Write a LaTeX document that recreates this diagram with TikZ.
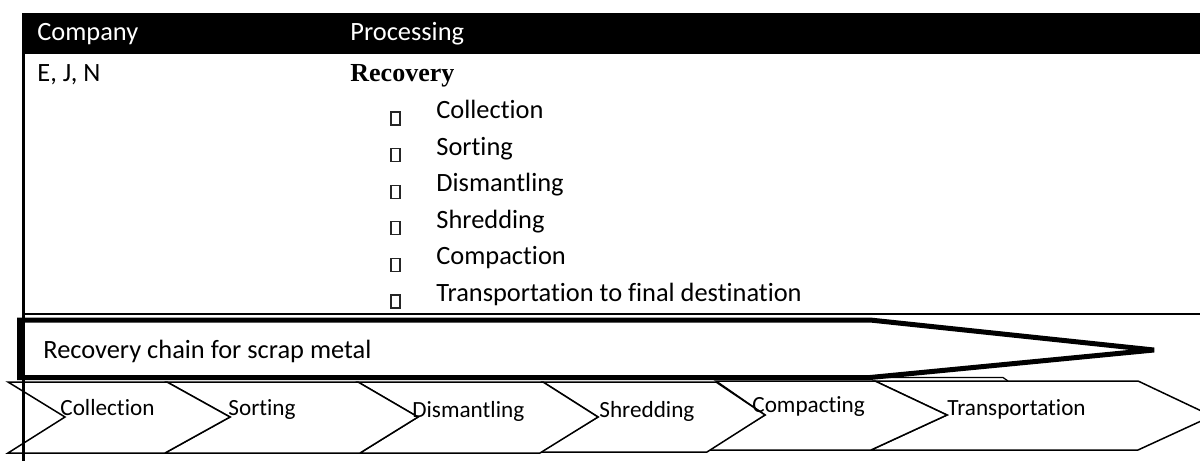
\documentclass[tikz,border=0pt]{standalone}
\usepackage{fontspec}
\setmainfont{Carlito}[Ligatures=NoCommon]
\newfontfamily\tnr{Liberation Serif}
\begin{document}
\begin{tikzpicture}[x=0.5pt,y=-0.5pt,
  lbl/.style={anchor=base west, inner sep=0pt, font=\fontsize{13.2}{15}\selectfont},
  hlbl/.style={lbl, text=white},
  clbl/.style={anchor=base west, inner sep=0pt, font=\fontsize{11.6}{14}\selectfont},
  chev/.style={draw=black, line width=0.75pt, fill=white, line join=miter},
  bbox/.style={draw=black!85, line width=0.65pt},
  bigarrow/.style={draw=black, line width=2.5pt, line join=miter, miter limit=4},
  tline/.style={draw=black, line width=1.5pt}]
\useasboundingbox (0,0) rectangle (1200,461);

% header bar
\fill[black] (22,13) rectangle (1200,54);
\node[hlbl] (hcomp) at (37,40) {Company};
\node[hlbl] (hproc) at (350,40) {Processing};

% table body
\node[lbl] (comp) at (37,81.5) {E, J, N};
\node[anchor=base west, inner sep=0pt, font=\tnr\bfseries\fontsize{13}{15}\selectfont] (rec) at (350,81.5) {Recovery};

\foreach \n/\yb/\t in {i1/118.5/Collection, i2/155.1/Sorting, i3/191.7/Dismantling, i4/228.3/Shredding, i5/264.9/Compaction, i6/301.5/Transportation to final destination}{
  \draw[bbox] (391,\yb-6.5) rectangle (400,\yb+6.5);
  \node[lbl] (\n) at (436,\yb) {\t};
}

\draw[draw=black, line width=1.1pt] (22,313.8) -- (1200,313.8);

% chevrons
\draw[chev] (875,381) -- (1138,381) -- (1212,416) -- (1138,450) -- (871,450) -- (947,415) -- cycle;
\draw[chev] (716,381) -- (875,381) -- (947,415) -- (871,450) -- (707,450) -- (765,415) -- cycle;
\draw[chev] (543,382) -- (716,382) -- (765,415) -- (707,452) -- (540,452) -- (598,417) -- cycle;
\draw[chev] (358,382) -- (543,382) -- (598,417) -- (540,453) -- (360,453) -- (418,417) -- cycle;
\draw[chev] (167,382) -- (358,382) -- (418,417) -- (360,453) -- (165,453) -- (230,417) -- cycle;
\draw[chev] (8,382) -- (167,382) -- (230,417) -- (165,453) -- (8,453) -- (65,417) -- cycle;
\draw[draw=black, line width=0.6pt] (870,377.5) -- (1003,377.5) -- (1008,381);

\node[clbl] (c1) at (60,415) {Collection};
\node[clbl] (c2) at (228,415) {Sorting};
\node[clbl] (c3) at (412,417) {Dismantling};
\node[clbl] (c4) at (599,417) {Shredding};
\node[clbl] (c5) at (752,412) {Compacting};
\node[clbl] (c6) at (947,415) {Transportation};

% big arrow
\draw[bigarrow] (19.5,320) -- (870,320) -- (1154,350) -- (870,377.5) -- (19.5,377.5) -- cycle;
\node[lbl] (chain) at (43,358) {Recovery chain for scrap metal};

% table left border
\draw[tline] (23.5,54) -- (23.5,461);
\end{tikzpicture}
\end{document}
